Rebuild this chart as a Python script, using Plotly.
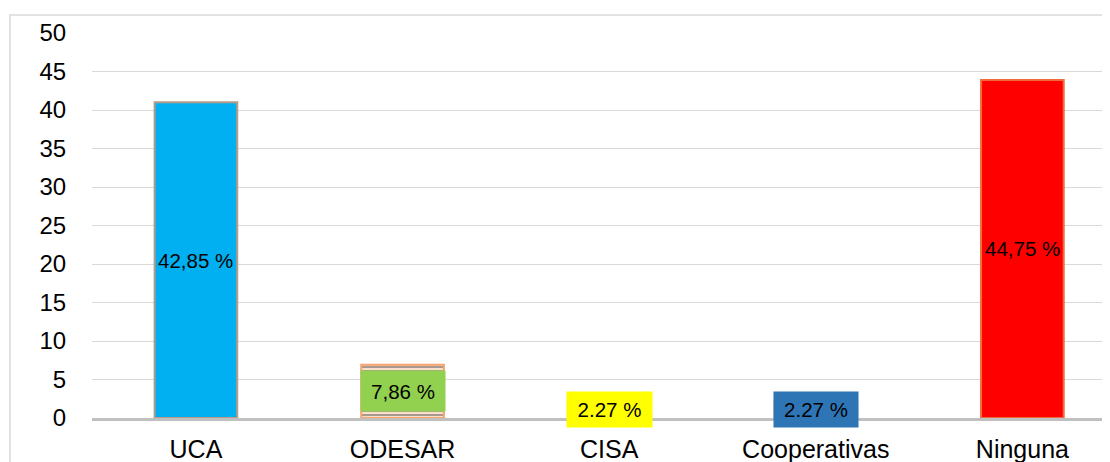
import plotly.graph_objects as go

categories = ['UCA', 'ODESAR', 'CISA', 'Cooperativas', 'Ninguna']
values = [41, 6.9, 2.3, 2.3, 43.9]
labels = ['42,85 %', '7,86 %', '2.27 %', '2.27 %', '44,75 %']
y_ticks = [0, 5, 10, 15, 20, 25, 30, 35, 40, 45, 50]

bar_colors = ['#00b0f0', '#fbe0cc', '#f4b183', '#f4b183', '#ff0000']
edge_colors = ['#b89a86', '#f4a46c', '#f4b183', '#f4b183', '#f26b3a']
label_bg = ['rgba(0,0,0,0)', '#92d050', '#ffff00', '#2e75b6', 'rgba(0,0,0,0)']
label_w = [None, 82, 83, 82, None]
label_h = [None, 38, 33, 33, None]

fig = go.Figure()
fig.add_trace(go.Bar(
    x=categories, y=values, width=0.40,
    marker=dict(color=bar_colors, line=dict(color=edge_colors, width=2),
                pattern=dict(shape=['', '-', '', '', ''], fgcolor='#ee8a45',
                             bgcolor='#fbe0cc', size=4, solidity=0.45)),
    showlegend=False, hoverinfo='skip'))

for cat, val, lab, bg, w, h in zip(categories, values, labels, label_bg, label_w, label_h):
    ann = dict(x=cat, y=val / 2, text=lab, showarrow=False, bgcolor=bg,
               font=dict(family='Arial, Liberation Sans', size=20.5, color='black'))
    if w:
        ann.update(width=w, height=h)
    fig.add_annotation(**ann)

# outer chart frame
fig.add_shape(type='rect', xref='paper', yref='paper', x0=-0.0806, x1=1.2, y0=-0.3, y1=1.047,
              line=dict(color='#d9d9d9', width=1.5), fillcolor='rgba(0,0,0,0)', layer='below')

fig.update_layout(
    width=1110, height=462,
    margin=dict(l=84, r=8, t=25, b=52),
    paper_bgcolor='white', plot_bgcolor='white',
    font=dict(family='Arial, Liberation Sans', color='black'),
    xaxis=dict(range=[-0.503, 4.424], showgrid=False, showline=True, linecolor='#c0c0c0',
               linewidth=3, tickfont=dict(size=25), ticks='outside', ticklen=7,
               tickcolor='rgba(0,0,0,0)', automargin=False),
    yaxis=dict(range=[0, 50], tickvals=y_ticks, showgrid=True, gridcolor='#d9d9d9', gridwidth=1,
               zeroline=False, tickfont=dict(size=24), ticks='outside', ticklen=20,
               tickcolor='rgba(0,0,0,0)', automargin=False),
)

fig.write_html("out.html")
